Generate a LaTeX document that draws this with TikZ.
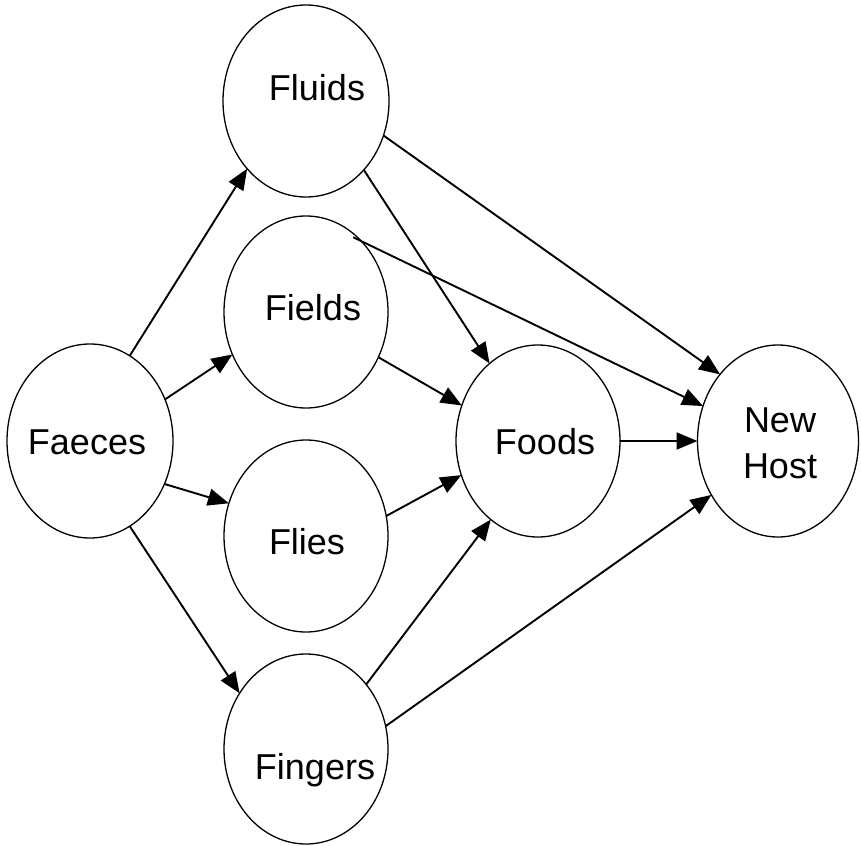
\documentclass[tikz,border=0pt]{standalone}
\usepackage{fontspec}
\setmainfont{Liberation Sans}
\usetikzlibrary{shapes.geometric,arrows.meta}
\begin{document}
\begin{tikzpicture}[x=1pt,y=-1pt,
  blob/.style={draw,ellipse,line width=1.3pt,inner sep=0pt,outer sep=0pt,minimum width=164pt,minimum height=192pt},
  lbl/.style={font=\fontsize{36}{46}\selectfont,inner sep=0pt,align=center},
  arr/.style={line width=1.9pt,-{Triangle[length=21pt,width=17pt]}}]
\useasboundingbox (0,0) rectangle (861,845);
\node[blob,minimum width=166pt,minimum height=194pt] (faeces) at (90,441) {};
\node[blob,minimum width=166pt] (fluids) at (306,101) {};
\node[blob] (fields) at (306,312) {};
\node[blob] (flies) at (306,536) {};
\node[blob,minimum height=190pt] (fingers) at (306,749) {};
\node[blob] (foods) at (538,441) {};
\node[blob,minimum width=161pt] (host) at (778,441) {};
\node[lbl] (faecesT) at (87,442) {Faeces};
\node[lbl] (fluidsT) at (317,88) {Fluids};
\node[lbl] (fieldsT) at (313,308) {Fields};
\node[lbl] (fliesT) at (307,542) {Flies};
\node[lbl] (fingersT) at (315,770) {Fingers};
\node[lbl] (foodsT) at (545,442) {Foods};
\node[lbl] (hostT) at (780,443) {New\\Host};
\draw[arr] (faeces.65) -- (fluids.229);
\draw[arr] (faeces.29) -- (fields.210);
\draw[arr] (faeces.-30) -- (flies.157);
\draw[arr] (faeces.-65) -- (fingers.140);
\draw[arr] (fluids.-50) -- (foods.122);
\draw[arr] (fluids.-24) -- (host.131);
\draw[arr,shorten <=-9pt] (fields.52) -- (host.155);
\draw[arr] (fields.-32) -- (foods.155);
\draw[arr] (flies.14) -- (foods.204);
\draw[arr] (fingers.47) -- (foods.239);
\draw[arr] (fingers.16) -- (host.219);
\draw[arr] (foods.0) -- (host.180);
\end{tikzpicture}
\end{document}
